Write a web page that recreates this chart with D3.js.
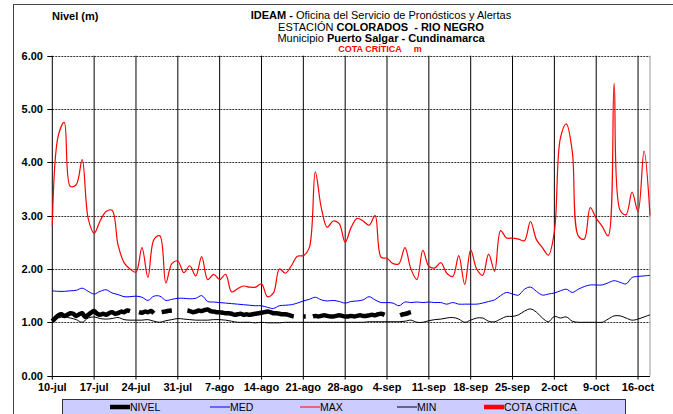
<!DOCTYPE html>
<html>
<head>
<meta charset="utf-8">
<script src="https://cdn.jsdelivr.net/npm/d3@7"></script>
<style>
body { margin: 0; background: #fff; }
svg text { font-family: "Liberation Sans", Arial, sans-serif; }
</style>
</head>
<body>
<svg id="chart" width="673" height="414"></svg>
<script>
// weekly tick labels, one every 7 days from 10-jul
var tickLabels = ["10-jul", "17-jul", "24-jul", "31-jul", "7-ago", "14-ago", "21-ago", "28-ago",
    "4-sep", "11-sep", "18-sep", "25-sep", "2-oct", "9-oct", "16-oct"];
var yTicks = [0, 1, 2, 3, 4, 5, 6];

// daily series, day 0 = 10-jul ... day 100 = 18-oct
var maxVals = [2.82, 4.50, 4.75, 3.55, 3.58, 4.05, 2.95, 2.67, 2.90, 3.08,
    3.10, 2.45, 2.12, 2.00, 1.94, 2.40, 1.84, 2.55, 2.62, 1.74,
    2.10, 2.15, 1.93, 2.06, 1.87, 2.23, 1.80, 1.90, 1.80, 1.90,
    1.57, 1.63, 1.68, 1.66, 1.66, 1.72, 1.48, 1.55, 2.00, 1.92,
    2.06, 2.24, 2.25, 2.40, 3.82, 3.15, 2.78, 2.90, 2.85, 2.50,
    2.78, 2.95, 2.90, 2.82, 3.00, 2.22, 2.20, 2.10, 2.10, 2.40,
    2.00, 1.80, 2.35, 2.05, 2.02, 2.12, 1.92, 1.86, 2.25, 1.71,
    2.36, 2.00, 1.88, 2.28, 1.96, 2.72, 2.58, 2.58, 2.56, 2.53,
    2.89, 2.55, 2.40, 2.26, 2.70, 4.45, 4.72, 4.20, 2.62, 2.56,
    3.15, 2.95, 2.80, 2.62, 5.48, 3.10, 3.02, 3.44, 3.08, 4.21, 3.00];

var medVals = [1.59, 1.58, 1.58, 1.59, 1.60, 1.64, 1.58, 1.53, 1.58, 1.61,
    1.55, 1.52, 1.48, 1.48, 1.49, 1.47, 1.41, 1.49, 1.49, 1.41,
    1.43, 1.45, 1.45, 1.44, 1.45, 1.50, 1.39, 1.38, 1.37, 1.36,
    1.35, 1.34, 1.33, 1.32, 1.31, 1.31, 1.28, 1.26, 1.31, 1.32,
    1.33, 1.36, 1.40, 1.43, 1.47, 1.42, 1.40, 1.41, 1.39, 1.36,
    1.39, 1.40, 1.42, 1.48, 1.42, 1.37, 1.37, 1.36, 1.31, 1.38,
    1.37, 1.38, 1.37, 1.38, 1.37, 1.37, 1.34, 1.37, 1.34, 1.34,
    1.34, 1.34, 1.36, 1.39, 1.42, 1.50, 1.56, 1.53, 1.51, 1.62,
    1.66, 1.58, 1.51, 1.53, 1.55, 1.59, 1.62, 1.56, 1.62, 1.67,
    1.70, 1.70, 1.70, 1.74, 1.78, 1.75, 1.72, 1.84, 1.86, 1.87, 1.88];

var minVals = [1.00, 1.08, 1.10, 1.08, 1.05, 1.00, 1.08, 1.10, 1.07, 1.06,
    1.07, 1.09, 1.05, 1.04, 1.04, 1.04, 1.05, 1.02, 1.00, 1.03,
    1.05, 1.07, 1.06, 1.05, 1.04, 1.04, 1.04, 1.05, 1.05, 1.04,
    1.02, 1.00, 1.00, 1.00, 0.99, 1.00, 0.99, 0.99, 0.99, 1.00,
    1.00, 1.00, 1.00, 1.00, 1.00, 1.00, 1.00, 1.00, 1.00, 1.00,
    1.00, 1.00, 1.00, 1.01, 1.01, 1.01, 1.01, 1.01, 1.01, 1.02,
    1.04, 1.00, 1.00, 1.03, 1.05, 1.06, 1.08, 1.09, 1.06, 1.00,
    1.04, 1.08, 1.08, 1.02, 1.01, 1.06, 1.11, 1.11, 1.14, 1.21,
    1.25, 1.19, 1.08, 1.01, 1.11, 1.08, 1.10, 1.02, 1.00, 1.00,
    1.00, 1.00, 1.00, 1.06, 1.12, 1.12, 1.08, 1.04, 1.06, 1.10, 1.14];

// NIVEL readings (half-day), null = no reading
var nivelDays = [0, 0.5, 1, 1.5, 2, 2.5, 3, 3.5, 4, 4.5, 5, 5.5, 6, 6.5, 7, 7.5, 8, 8.5, 9, 9.5,
    10, 10.5, 11, 11.5, 12, 12.5, 13, 13.7,
    14.5, 15, 15.5, 16, 16.5, 17, 17.6,
    18.3, 18.8, 19.3, 20, 21,
    22.6, 23, 23.5, 24, 24.5, 25, 25.5, 26, 26.5, 27, 27.5, 28, 28.5, 29, 29.5, 30, 30.5, 31, 31.5,
    32, 32.5, 33, 33.5, 34, 34.5, 35, 35.5, 36, 36.5, 37, 37.5, 38, 38.5, 39, 39.5, 40, 40.4, 41,
    42, 42.4, 43,
    43.6, 44, 44.5, 45, 45.5, 46, 46.5, 47, 47.5, 48, 48.5, 49, 49.5, 50, 50.5, 51, 51.5, 52, 52.5,
    53, 53.5, 54, 54.5, 55, 55.6, 57,
    58.2, 58.7, 59.2, 59.7, 60];
var nivelVals = [1.02, 1.08, 1.13, 1.15, 1.12, 1.14, 1.17, 1.16, 1.12, 1.15, 1.17, 1.10, 1.14, 1.18, 1.21, 1.16, 1.14, 1.16, 1.14, 1.17,
    1.19, 1.16, 1.17, 1.20, 1.19, 1.22, 1.21, null,
    1.19, 1.18, 1.20, 1.19, 1.21, 1.17, null,
    1.19, 1.20, 1.21, 1.22, null,
    1.22, 1.21, 1.19, 1.20, 1.22, 1.21, 1.23, 1.24, 1.21, 1.20, 1.19, 1.19, 1.18, 1.17, 1.17, 1.16, 1.14, 1.15, 1.16,
    1.14, 1.15, 1.14, 1.15, 1.16, 1.17, 1.18, 1.19, 1.20, 1.19, 1.17, 1.17, 1.16, 1.15, 1.15, 1.14, 1.12, 1.11, null,
    1.11, 1.11, null,
    1.11, 1.12, 1.11, 1.12, 1.13, 1.12, 1.11, 1.11, 1.12, 1.13, 1.12, 1.11, 1.11, 1.12, 1.11, 1.12, 1.13, 1.12, 1.12,
    1.13, 1.14, 1.13, 1.15, 1.16, 1.14, null,
    1.13, 1.15, 1.16, 1.18, 1.19];

var legendNames = ["NIVEL", "MED", "MAX", "MIN", "COTA CRITICA"];
var legendColors = ["#000", "#0000ff", "#ff0000", "#000", "#ff0000"];
var legendWidths = [4.5, 1, 1, 1, 4.5];

var svg = d3.select("#chart");

var x = d3.scaleLinear().domain([0, 100]).range([52.3, 650]);
var y = d3.scaleLinear().domain([0, 6]).range([375.6, 55.7]);

// outer frame
svg.append("rect")
    .attr("x", 13.5).attr("y", 4.5)
    .attr("width", 700).attr("height", 450)
    .attr("fill", "none").attr("stroke", "#444").attr("stroke-width", 1);

// titles
var title = svg.append("text")
    .attr("x", 381).attr("text-anchor", "middle")
    .attr("font-size", "11px").attr("fill", "#000")
    .attr("xml:space", "preserve");
var t1 = title.append("tspan").attr("x", 381).attr("y", 19);
t1.append("tspan").attr("font-weight", "bold").text("IDEAM - ");
t1.append("tspan").text("Oficina del Servicio de Pronósticos y Alertas");
var t2 = title.append("tspan").attr("x", 381).attr("y", 30.5);
t2.append("tspan").text("ESTACIÓN ");
t2.append("tspan").attr("font-weight", "bold").text("COLORADOS  - RIO NEGRO");
var t3 = title.append("tspan").attr("x", 381).attr("y", 42);
t3.append("tspan").text("Municipio ");
t3.append("tspan").attr("font-weight", "bold").text("Puerto Salgar - Cundinamarca");

svg.append("text")
    .attr("x", 380).attr("y", 52)
    .attr("text-anchor", "middle")
    .attr("font-size", "9px").attr("font-weight", "bold")
    .attr("fill", "#ff0000")
    .attr("xml:space", "preserve")
    .text("COTA CRÍTICA     m");

svg.append("text")
    .attr("x", 52).attr("y", 20)
    .attr("font-size", "11px").attr("font-weight", "bold")
    .text("Nivel (m)");

// horizontal dotted grid
svg.append("g").selectAll("line")
    .data(yTicks.filter(function (d) { return d > 0; }))
    .enter().append("line")
    .attr("x1", x(0)).attr("x2", x(100))
    .attr("y1", function (d) { return Math.round(y(d)) + 0.5; })
    .attr("y2", function (d) { return Math.round(y(d)) + 0.5; })
    .attr("stroke", "#333").attr("stroke-width", 1)
    .attr("stroke-dasharray", "2,1");

// weekly vertical grid
svg.append("g").selectAll("line")
    .data(tickLabels)
    .enter().append("line")
    .attr("x1", function (d, i) { return x(i * 7); })
    .attr("x2", function (d, i) { return x(i * 7); })
    .attr("y1", y(6)).attr("y2", y(0) + 4)
    .attr("stroke", "#000").attr("stroke-width", 1);

// right edge of plot
svg.append("line")
    .attr("x1", x(100)).attr("x2", x(100))
    .attr("y1", y(6)).attr("y2", y(0))
    .attr("stroke", "#999").attr("stroke-width", 1);

// axes
svg.append("line")
    .attr("x1", x(0)).attr("x2", x(100))
    .attr("y1", Math.round(y(0)) + 0.5).attr("y2", Math.round(y(0)) + 0.5)
    .attr("stroke", "#000");

svg.append("g").selectAll("line")
    .data(yTicks)
    .enter().append("line")
    .attr("x1", x(0) - 5).attr("x2", x(0))
    .attr("y1", function (d) { return Math.round(y(d)) + 0.5; })
    .attr("y2", function (d) { return Math.round(y(d)) + 0.5; })
    .attr("stroke", "#000");

svg.append("g").selectAll("text")
    .data(yTicks)
    .enter().append("text")
    .attr("x", 43).attr("y", function (d) { return y(d) + 4; })
    .attr("text-anchor", "end")
    .attr("font-size", "11px").attr("font-weight", "bold")
    .text(function (d) { return d3.format(".2f")(d); });

svg.append("g").selectAll("text")
    .data(tickLabels)
    .enter().append("text")
    .attr("x", function (d, i) { return x(i * 7); })
    .attr("y", 391)
    .attr("text-anchor", "middle")
    .attr("font-size", "11px").attr("font-weight", "bold")
    .text(function (d) { return d; });

// series
var dailyLine = d3.line()
    .x(function (d, i) { return x(i); })
    .y(function (d) { return y(d); })
    .curve(d3.curveCatmullRom.alpha(0.5));

svg.append("path").datum(minVals)
    .attr("d", dailyLine)
    .attr("fill", "none").attr("stroke", "#000").attr("stroke-width", 1);

svg.append("path").datum(medVals)
    .attr("d", dailyLine)
    .attr("fill", "none").attr("stroke", "#0000ff").attr("stroke-width", 1);

svg.append("path").datum(maxVals)
    .attr("d", dailyLine)
    .attr("fill", "none").attr("stroke", "#ff0000").attr("stroke-width", 1.2);

var nivelLine = d3.line()
    .defined(function (d) { return d[1] !== null; })
    .x(function (d) { return x(d[0]); })
    .y(function (d) { return y(d[1]); })
    .curve(d3.curveCatmullRom.alpha(0.5));

svg.append("path")
    .datum(nivelDays.map(function (d, i) { return [d, nivelVals[i]]; }))
    .attr("d", nivelLine)
    .attr("fill", "none").attr("stroke", "#000").attr("stroke-width", 4.5);

// legend
svg.append("rect")
    .attr("x", 62.5).attr("y", 399.5)
    .attr("width", 563).attr("height", 30)
    .attr("fill", "#ccccff").attr("stroke", "#333");

var legendX = [110, 210, 300, 397, 484];
var lg = svg.append("g").selectAll("g")
    .data(legendNames)
    .enter().append("g")
    .attr("transform", function (d, i) { return "translate(" + legendX[i] + ",407)"; });

lg.append("line")
    .attr("x1", 0).attr("x2", 20)
    .attr("y1", 0).attr("y2", 0)
    .attr("stroke", function (d, i) { return legendColors[i]; })
    .attr("stroke-width", function (d, i) { return legendWidths[i]; });

lg.append("text")
    .attr("x", 20).attr("y", 3.8)
    .attr("font-size", "10.5px")
    .text(function (d) { return d; });
</script>
</body>
</html>
